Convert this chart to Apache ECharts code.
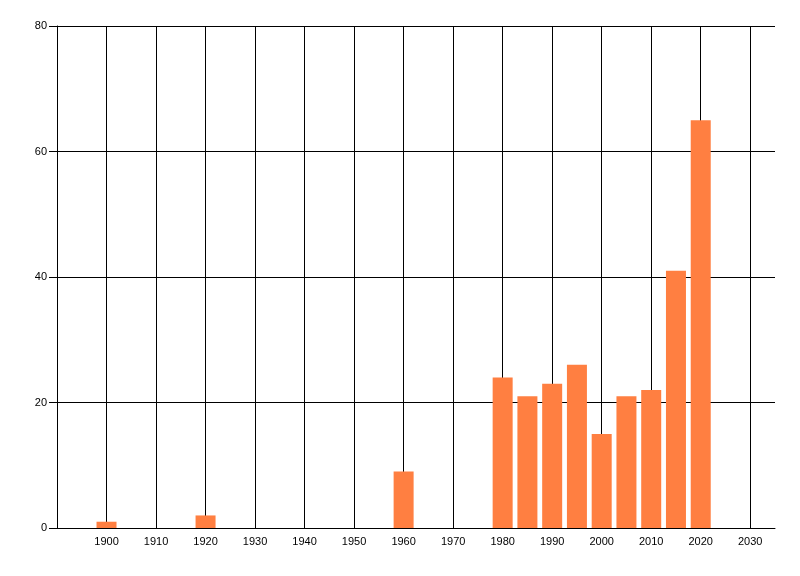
<!DOCTYPE html>
<html lang="en" style="height: 100%">
<head>
  <meta charset="utf-8">
</head>
<body style="height: 100%; margin: 0; background: #fff">
  <div id="container" style="width: 800px; height: 576px"></div>

  <script type="text/javascript" src="https://cdn.jsdelivr.net/npm/echarts@6/dist/echarts.min.js"></script>

  <script type="text/javascript">
    var years = [1900, 1920, 1960, 1980, 1985, 1990, 1995, 2000, 2005, 2010, 2015, 2020];
    var counts = [1, 2, 9, 24, 21, 23, 26, 15, 21, 22, 41, 65];
    var yTicks = [0, 20, 40, 60, 80];

    var dom = document.getElementById('container');
    var myChart = echarts.init(dom, null, { renderer: 'canvas' });

    var labelFont = { color: '#000', fontFamily: 'Liberation Sans, Arial, sans-serif', fontSize: 11 };

    var option = {
      animation: false,
      backgroundColor: '#fff',
      grid: { left: 57, right: 25, top: 26, bottom: 48, containLabel: false },
      xAxis: {
        type: 'value',
        min: 1890,
        max: 2035,
        interval: 10,
        axisLine: { show: true, lineStyle: { color: '#000', width: 1 } },
        axisTick: { show: false },
        axisLabel: Object.assign({
          margin: 8,
          showMinLabel: false,
          showMaxLabel: false,
          formatter: function (v) { return String(v); }
        }, labelFont),
        splitLine: { show: true, showMinLine: false, showMaxLine: false, lineStyle: { color: '#000', width: 1 } }
      },
      yAxis: {
        type: 'value',
        min: yTicks[0],
        max: yTicks[yTicks.length - 1],
        interval: 20,
        axisLine: { show: true, lineStyle: { color: '#000', width: 1 } },
        axisTick: { show: true, length: 8, lineStyle: { color: '#000', width: 1 } },
        axisLabel: Object.assign({ margin: 10 }, labelFont),
        splitLine: { show: true, lineStyle: { color: '#000', width: 1 } }
      },
      series: [
        {
          type: 'bar',
          data: years.map(function (y, i) { return [y, counts[i]]; }),
          barWidth: 20,
          itemStyle: { color: '#FF7F41' },
          z: 3
        }
      ]
    };

    myChart.setOption(option);
    window.addEventListener('resize', myChart.resize);
  </script>
</body>
</html>
